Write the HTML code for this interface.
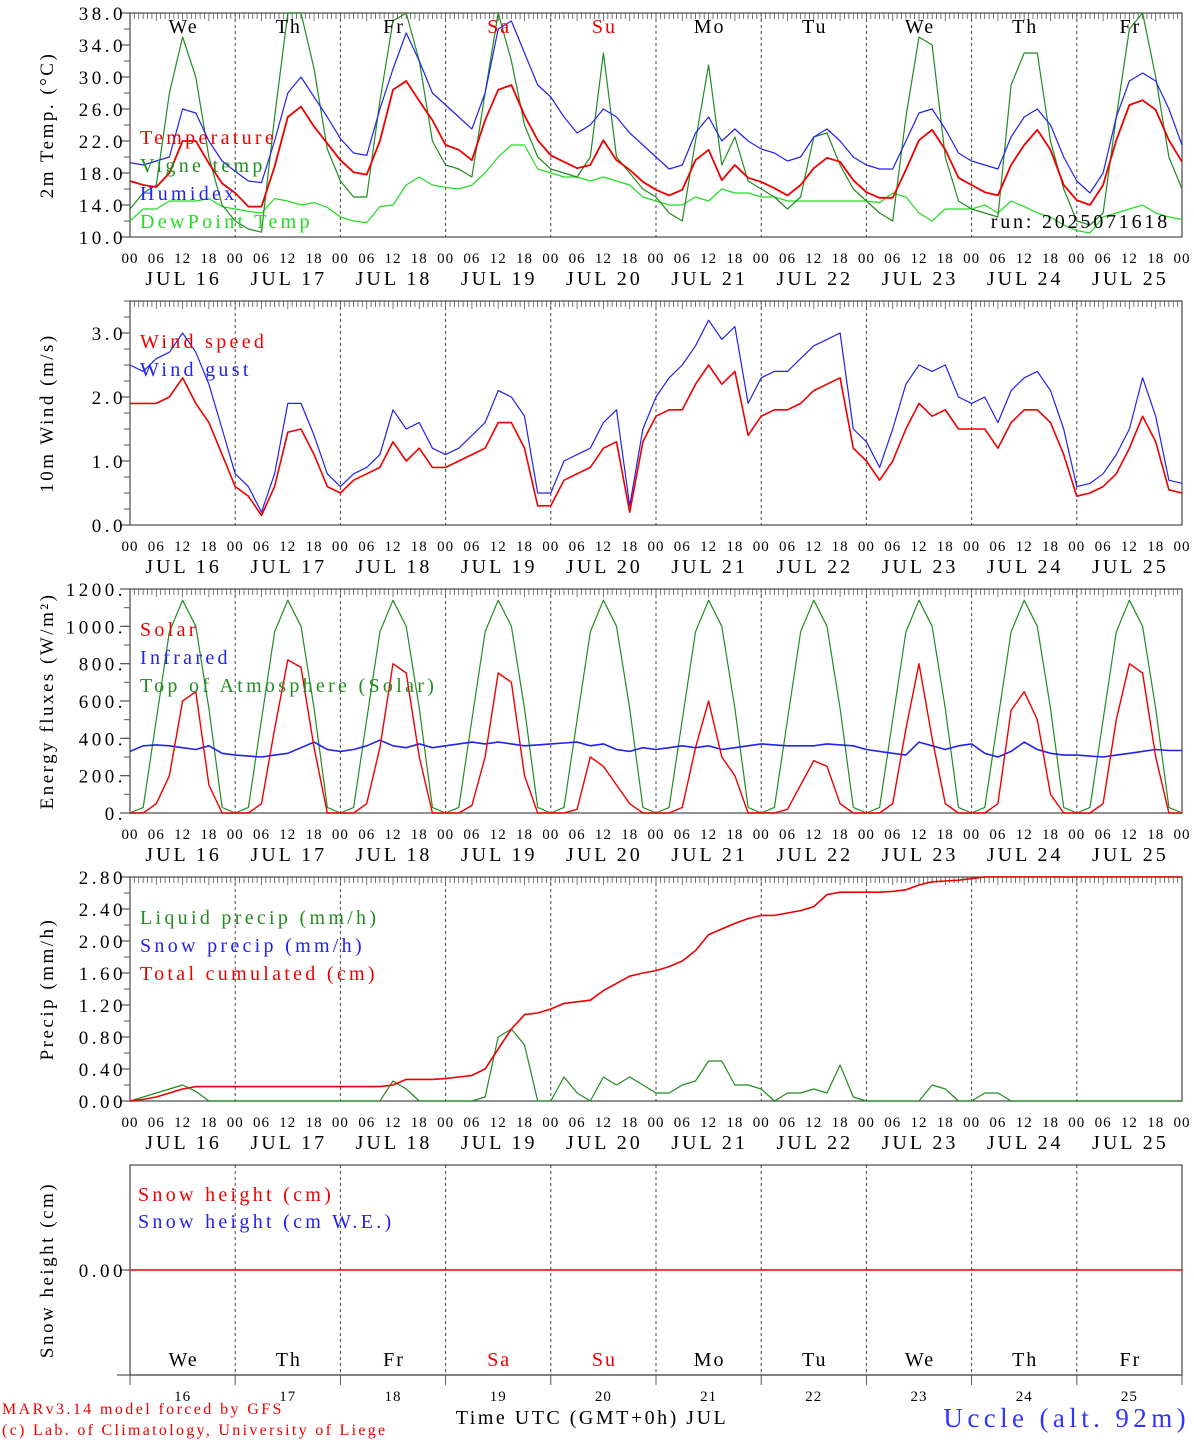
<!DOCTYPE html>
<html><head><meta charset="utf-8"><style>
body{margin:0;background:#fff;}
svg{display:block;font-family:"Liberation Serif",serif;}
</style></head><body>
<svg id="c" width="1194" height="1440" viewBox="0 0 1194 1440" xmlns="http://www.w3.org/2000/svg"></svg>
<script>
const dayNames=["We","Th","Fr","Sa","Su","Mo","Tu","We","Th","Fr"];
const dayNums=["16","17","18","19","20","21","22","23","24","25"];
const tempVals=[17,16.5,16.25,18,22,22,19.2,16.7, 15.5,13.8,13.8,18.8,25,26.3,23.8,21.7, 19.6,18.1,17.8,22,28.4,29.5,27,24.6, 21.5,20.9,19.6,24.6,28.4,29,25.2,22.1, 20.2,19.4,18.6,19,22.1,19.6,18.4,16.9, 15.9,15.2,15.9,19.6,20.9,17.1,19,17.4, 16.9,16.1,15.2,16.5,18.6,19.9,19.4,17.1, 15.6,14.9,14.9,18.4,22.1,23.4,20.9,17.4, 16.5,15.6,15.2,19,21.5,23.4,20.9,16.5, 14.6,14,16.5,22.1,26.5,27.1,25.9,22.1,19.4];
const vigneVals=[13.5,15.5,16.5,28,35,30,20,14, 12,11,10.6,25,38,38,31,21, 17,15,15,27,37,38,32,22, 19,18.5,17.5,28,38,32,24,20, 18.5,18,17.5,20,33,20,18,16, 15,13,12,22,31.5,19,22.5,17, 16,15,13.5,15,22.5,23,19,16, 14.5,13,12,25,35,34,20,14.5, 13.5,13,12.5,29,33,33,22,16, 12,11.5,13,25,36,38,30,20,16];
const humidexVals=[19.3,19,19.5,20,26,25.5,22,19.5, 18.2,17,16.8,22,28,30,27.5,25, 22.3,20.5,20.2,26,31,35.5,32,28, 26.5,25,23.5,28,36,37,33,29, 27.5,25,23,24,26,25,23,21.5, 20,18.5,19,23,25,22,23.5,22, 21,20.5,19.5,20,22.5,23.5,22,20, 19,18.5,18.5,22,25.5,26,23.5,20.5, 19.5,19,18.5,22.5,25,26,24,20, 17,15.5,18,25,29.5,30.5,29.5,26,21.5];
const dewVals=[12,13.5,13.5,14.5,14.5,14.5,14.8,13.8, 13.5,13.2,13,14.8,14.5,14,14.3,13.7, 12.5,12,11.8,13.8,14,16.5,17.5,16.5, 16.2,16,16.5,18,20,21.5,21.5,18.5, 18,17.5,17.5,17,17.5,17,16.5,15, 14.5,14,14,15,14.5,16,15.5,15.5, 15,15,14.5,14.5,14.5,14.5,14.5,14.5, 14.5,14.3,15.5,15,13,12,13.5,13.5, 13.5,14,13,14.5,13.8,13,12.5,11.5, 10.8,10.5,12.5,13,13.5,14,13,12.5,12.2];
const windVals=[1.9,1.9,1.9,2.0,2.3,1.9,1.6,1.1, 0.6,0.45,0.15,0.6,1.45,1.5,1.1,0.6, 0.5,0.7,0.8,0.9,1.3,1.0,1.2,0.9, 0.9,1.0,1.1,1.2,1.6,1.6,1.2,0.3, 0.3,0.7,0.8,0.9,1.2,1.3,0.2,1.3, 1.7,1.8,1.8,2.2,2.5,2.2,2.4,1.4, 1.7,1.8,1.8,1.9,2.1,2.2,2.3,1.2, 1.0,0.7,1.0,1.5,1.9,1.7,1.8,1.5, 1.5,1.5,1.2,1.6,1.8,1.8,1.6,1.1, 0.45,0.5,0.6,0.8,1.2,1.7,1.3,0.55,0.5];
const gustVals=[2.5,2.4,2.6,2.7,3.0,2.7,2.2,1.5, 0.8,0.6,0.2,0.8,1.9,1.9,1.4,0.8, 0.6,0.8,0.9,1.1,1.8,1.5,1.6,1.2, 1.1,1.2,1.4,1.6,2.1,2.0,1.7,0.5, 0.5,1.0,1.1,1.2,1.6,1.8,0.3,1.5, 2.0,2.3,2.5,2.8,3.2,2.9,3.1,1.9, 2.3,2.4,2.4,2.6,2.8,2.9,3.0,1.5, 1.3,0.9,1.5,2.2,2.5,2.4,2.5,2.0, 1.9,2.0,1.6,2.1,2.3,2.4,2.1,1.5, 0.6,0.65,0.8,1.1,1.5,2.3,1.7,0.7,0.65];
const toaDay=[0,30,500,970,1140,1000,560,30];
const solarVals=[0,0,50,200,600,650,150,0, 0,0,50,450,820,780,350,0, 0,0,50,350,800,750,300,0, 0,0,40,300,750,700,200,0, 0,0,20,300,250,150,50,0, 0,0,30,350,600,300,200,0, 0,0,20,150,280,250,50,0, 0,0,50,450,800,400,50,0, 0,0,50,550,650,500,100,0, 0,0,50,500,800,750,300,0,0];
const irVals=[330,360,365,360,350,340,360,320, 310,305,300,310,320,350,380,340, 330,340,360,390,360,350,370,350, 360,370,380,370,380,370,360,365, 370,375,380,360,370,340,330,350, 340,350,360,350,360,340,350,360, 370,365,360,360,360,370,365,360, 340,330,320,310,380,360,340,360, 370,320,300,330,380,340,320,310, 310,305,300,310,320,330,340,335,335];
const liqVals=[0,0.05,0.1,0.15,0.2,0.12,0,0, 0,0,0,0,0,0,0,0, 0,0,0,0,0.25,0.15,0,0, 0,0,0,0.05,0.8,0.9,0.7,0, 0,0.3,0.1,0,0.3,0.2,0.3,0.2, 0.1,0.1,0.2,0.25,0.5,0.5,0.2,0.2, 0.15,0,0.1,0.1,0.15,0.1,0.45,0.05, 0,0,0,0,0,0.2,0.15,0, 0,0.1,0.1,0,0,0,0,0, 0,0,0,0,0,0,0,0,0];
const cumVals=[0,0.02,0.05,0.1,0.15,0.18,0.18,0.18, 0.18,0.18,0.18,0.18,0.18,0.18,0.18,0.18, 0.18,0.18,0.18,0.18,0.2,0.27,0.27,0.27, 0.28,0.3,0.32,0.4,0.65,0.9,1.08,1.1, 1.15,1.22,1.24,1.26,1.38,1.47,1.56,1.6, 1.63,1.68,1.75,1.88,2.08,2.15,2.22,2.28, 2.32,2.32,2.35,2.38,2.43,2.58,2.61,2.61, 2.61,2.61,2.62,2.64,2.7,2.74,2.75,2.76, 2.78,2.8,2.8,2.8,2.8,2.8,2.8,2.8, 2.8,2.8,2.8,2.8,2.8,2.8,2.8,2.8,2.8];
const snowVals=new Array(81).fill(0);

const S=document.getElementById('c');
const NS='http://www.w3.org/2000/svg';
const X0=130,X1=1182,DW=(X1-X0)/10;
function el(t,a,txt){const e=document.createElementNS(NS,t);for(const k in a)e.setAttribute(k,a[k]);if(txt!==undefined)e.textContent=txt;S.appendChild(e);return e;}
function xs(i){return X0+i*DW/8;}
function txt(x,y,s,size,fill,anchor,name,ls){const t=el('text',{x:x,y:y,'font-size':size,fill:fill,'text-anchor':anchor||'start','letter-spacing':ls||0},s);return t;}

const panels=[
 {top:13,bot:237,min:10,max:38,ticks:[10,14,18,22,26,30,34,38],fmt:v=>v.toFixed(1),minor:2,title:'2m Temp. (\u00B0C)',name:'temperature-panel'},
 {top:301,bot:525,min:0,max:3.5,ticks:[0,1,2,3],fmt:v=>v.toFixed(1),minor:0.25,title:'10m Wind (m/s)',name:'wind-panel'},
 {top:589,bot:813,min:0,max:1200,ticks:[0,200,400,600,800,1000,1200],fmt:v=>v+'.',minor:100,title:'Energy fluxes (W/m\u00B2)',name:'energy-panel'},
 {top:877,bot:1101,min:0,max:2.8,ticks:[0,0.4,0.8,1.2,1.6,2.0,2.4,2.8],fmt:v=>v.toFixed(2),minor:0.2,title:'Precip (mm/h)',name:'precip-panel'},
 {top:1165,bot:1375,min:-1,max:1,ticks:[0],fmt:v=>v.toFixed(2),minor:null,title:'Snow height (cm)',name:'snow-panel'}
];
panels.forEach((p,pi)=>{
 const Y=v=>p.bot-(v-p.min)/(p.max-p.min)*(p.bot-p.top);
 p.Y=Y;
 const g=el('rect',{x:X0,y:p.top,width:X1-X0,height:p.bot-p.top,fill:'none',stroke:'#555','stroke-width':1.3});
 
 for(let d=1;d<10;d++){const l=el('line',{x1:X0+d*DW,x2:X0+d*DW,y1:p.top,y2:p.bot,stroke:'#444','stroke-dasharray':'3,3','stroke-width':1});}
 if(pi<4){
  for(let h=0;h<=240;h++){const x=X0+h*DW/24;el('line',{x1:x,x2:x,y1:p.top,y2:p.top+(h%6===0?8:6),stroke:'#555','stroke-width':0.8});}
  for(let d=0;d<10;d++){
   ['00','06','12','18'].forEach((h,k)=>txt(X0+d*DW+k*DW/4,p.bot+26,h,15,'#000','middle','hour-tick-label',1));
   txt(X0+d*DW+DW/2+1,p.bot+48,'JUL '+dayNums[d],20,'#000','middle','date-tick-label',3);
  }
  txt(X1,p.bot+26,'00',15,'#000','middle','hour-tick-label',1);
 }
 if(p.minor){for(let v=p.min;v<=p.max+1e-9;v+=p.minor){el('line',{x1:X0-6,x2:X0,y1:Y(v),y2:Y(v),stroke:'#555'});}}
 p.ticks.forEach(v=>{el('line',{x1:X0-10,x2:X0,y1:Y(v),y2:Y(v),stroke:'#555','stroke-width':1.2});txt(126,Y(v)+7,p.fmt(v),19,'#000','end','y-tick-label',3.5);});
 const cy=(p.top+p.bot)/2;
 const t=el('text',{x:0,y:0,'font-size':19,'letter-spacing':2.5,'text-anchor':'middle',transform:`translate(53,${cy}) rotate(-90)`},p.title);
 
});
function line(pi,arr,color,w,name){const p=panels[pi];const pts=arr.map((v,i)=>xs(i).toFixed(1)+','+p.Y(v).toFixed(1)).join(' ');const l=el('polyline',{points:pts,fill:'none',stroke:color,'stroke-width':w,'stroke-linejoin':'round'});}
const toaVals=[];for(let d=0;d<10;d++)toaDay.forEach(v=>toaVals.push(v));toaVals.push(0);
line(0,dewVals,'#22dd22',1.2,'dewpoint-line');
line(0,vigneVals,'#228b22',1.2,'vigne-temp-line');
line(0,humidexVals,'#2222ee',1.2,'humidex-line');
line(0,tempVals,'#ee0000',1.8,'temperature-line');
line(1,gustVals,'#2222ee',1.2,'wind-gust-line');
line(1,windVals,'#ee0000',1.6,'wind-speed-line');
line(2,toaVals,'#228b22',1.2,'toa-solar-line');
line(2,irVals,'#2222ee',1.6,'infrared-line');
line(2,solarVals,'#ee0000',1.4,'solar-line');
line(3,liqVals,'#228b22',1.2,'liquid-precip-line');
line(3,cumVals,'#ee0000',1.6,'cumulated-precip-line');
line(4,snowVals,'#ee0000',1.4,'snow-height-line');

for(let d=0;d<10;d++){const c=(d===3||d===4)?'#ee0000':'#000';txt(X0+d*DW+DW/2+1,33,dayNames[d],20,c,'middle','day-name-label',2);txt(X0+d*DW+DW/2+1,1366,dayNames[d],20,c,'middle','day-name-label',2);txt(X0+d*DW+DW/2,1401,dayNums[d],15,'#000','middle','day-number-label',1);}
el('line',{x1:117,x2:X1,y1:1375,y2:1375,stroke:'#555','stroke-width':1.3});
for(let d=0;d<=10;d++)el('line',{x1:X0+d*DW,x2:X0+d*DW,y1:1375,y2:1385,stroke:'#555'});
const leg=[[140,144,'Temperature','#ee0000'],[140,172,'Vigne temp','#228b22'],[140,200,'Humidex','#2222ee'],[140,228,'DewPoint Temp','#22dd22'],
[140,348,'Wind speed','#ee0000'],[140,376,'Wind gust','#2222ee'],
[140,636,'Solar','#ee0000'],[140,664,'Infrared','#2222ee'],[140,692,'Top of Atmosphere (Solar)','#228b22'],
[140,924,'Liquid precip (mm/h)','#228b22'],[140,952,'Snow precip (mm/h)','#2222ee'],[140,980,'Total cumulated (cm)','#ee0000'],
[138,1201,'Snow height (cm)','#ee0000'],[138,1228,'Snow height (cm W.E.)','#2222ee']];
leg.forEach(l=>txt(l[0],l[1],l[2],20,l[3],'start','legend-entry',3.3));
txt(1170,228,'run: 2025071618',20,'#000','end','run-label',2.8);
txt(592,1424,'Time UTC (GMT+0h) JUL',20,'#000','middle','x-axis-title',2.5);
txt(2,1414,'MARv3.14 model forced by GFS',16,'#ee0000','start','model-credit',2.4);
txt(2,1435,'(c) Lab. of Climatology, University of Liege',16,'#ee0000','start','lab-credit',2.3);
txt(1190,1427,'Uccle (alt. 92m)',27,'#3333ff','end','station-title',4.4);
</script>
</body></html>
